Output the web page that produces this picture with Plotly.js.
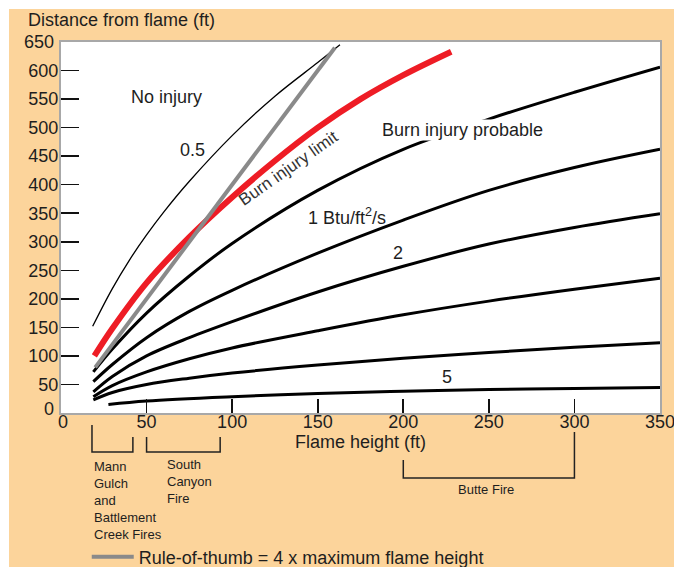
<!DOCTYPE html>
<html><head><meta charset="utf-8">
<script src="https://cdn.plot.ly/plotly-3.0.1.min.js"></script>
<style>
html,body{margin:0;padding:0;background:#fff;width:674px;height:567px;overflow:hidden}
#chart{position:absolute;left:9px;top:9px;width:665px;height:558px}
</style>
</head><body><div id="chart"></div>
<script>
// Flame height (ft) vs distance from flame (ft)
const flameH05 = [18.5, 30, 40, 50, 60, 75, 100, 125, 150, 163];
const dist05   = [152, 218, 268, 312, 352, 406, 486, 555, 614, 645];

const flameHLimit = [19.5, 30, 50, 75, 100, 125, 150, 175, 200, 228];
const distLimit   = [100, 148, 228, 308, 378, 442, 500, 550, 592, 633];

const flameHRule = [20, 160];
const distRule   = [80, 640];

const flameHA = [18.9, 30, 50, 75, 100, 150, 200, 250, 300, 350];
const distA   = [72, 112, 175, 240, 297, 390, 462, 515, 562, 606];

const flameH1 = [18.9, 30, 50, 75, 100, 150, 200, 250, 300, 350];
const dist1   = [55, 85, 132, 178, 215, 280, 338, 390, 430, 462];

const flameH2 = [18.9, 30, 50, 75, 100, 150, 200, 250, 300, 350];
const dist2   = [37, 64, 100, 132, 160, 212, 257, 296, 325, 349];

const flameH3 = [18.9, 30, 50, 75, 100, 150, 200, 250, 300, 350];
const dist3   = [28.5, 48, 72, 95, 114, 144, 172, 196, 217, 236];

const flameH4 = [18.9, 30, 50, 75, 100, 150, 200, 250, 300, 350];
const dist4   = [23, 36, 50, 61, 70, 84, 96, 106, 115, 123];

const flameH5 = [27.7, 50, 100, 150, 200, 250, 300, 350];
const dist5   = [15, 21, 28.5, 34, 38, 41, 43, 44.5];

const xTickVals = [50, 100, 150, 200, 250, 300];
const yTickVals = [50, 100, 150, 200, 250, 300, 350, 400, 450, 500, 550, 600];

const fireNames  = ['Mann<br>Gulch<br>and<br>Battlement<br>Creek Fires', 'South<br>Canyon<br>Fire', 'Butte Fire'];
const fireRanges = [[18.1, 42], [50, 93], [200, 300]];

const FONT = 'Liberation Sans, Arial, Helvetica, sans-serif';
const TXT = '#1e1e1e';

function blk(x, y, w) {
  return {x: x, y: y, type: 'scatter', mode: 'lines', showlegend: false, hoverinfo: 'skip',
          line: {color: '#000', width: w, shape: 'spline', smoothing: 1}};
}

const traces = [
  blk(flameHA, distA, 3),
  blk(flameH1, dist1, 3),
  blk(flameH2, dist2, 3),
  blk(flameH3, dist3, 3),
  blk(flameH4, dist4, 3),
  blk(flameH5, dist5, 3),
  blk(flameH05, dist05, 1.3),
  {x: flameHLimit, y: distLimit, type: 'scatter', mode: 'lines', showlegend: false, hoverinfo: 'skip',
   line: {color: '#ee1c25', width: 6, shape: 'spline', smoothing: 1}},
  {x: flameHRule, y: distRule, type: 'scatter', mode: 'lines', name: 'Rule-of-thumb = 4 x maximum flame height',
   showlegend: true, hoverinfo: 'skip', line: {color: '#8a8a8a', width: 4}}
];

function pyPaper(py) { return (413 - py) / 371; }

const annotations = [
  {text: 'Distance from flame (ft)', xref: 'paper', yref: 'paper', x: -0.0584, y: pyPaper(20), xanchor: 'left', yanchor: 'middle', showarrow: false, font: {size: 18, color: TXT, family: FONT}},
  {text: '0', xref: 'x', yref: 'paper', x: 1, y: pyPaper(422), xanchor: 'center', yanchor: 'middle', showarrow: false, font: {size: 18, color: TXT, family: FONT}},
  {text: '350', xref: 'x', yref: 'paper', x: 350, y: pyPaper(422), xanchor: 'center', yanchor: 'middle', showarrow: false, font: {size: 18, color: TXT, family: FONT}},
  {text: '0', xref: 'paper', yref: 'paper', x: -0.009, y: pyPaper(409), xanchor: 'right', yanchor: 'middle', showarrow: false, font: {size: 18, color: TXT, family: FONT}},
  {text: '650', xref: 'paper', yref: 'y', x: -0.009, y: 650, xanchor: 'right', yanchor: 'middle', showarrow: false, font: {size: 18, color: TXT, family: FONT}},
  {text: 'No injury', xref: 'x', yref: 'y', x: 61.4, y: 553, showarrow: false, font: {size: 18, color: TXT, family: FONT}},
  {text: '0.5', xref: 'x', yref: 'y', x: 77, y: 460, showarrow: false, font: {size: 18, color: TXT, family: FONT}},
  {text: 'Burn injury limit', xref: 'x', yref: 'y', x: 132.7, y: 429, textangle: -35, showarrow: false, font: {size: 17, color: '#333', family: FONT}},
  {text: 'Burn injury probable', xref: 'x', yref: 'y', x: 234.4, y: 495, showarrow: false, bgcolor: '#fff', borderpad: 0, font: {size: 18, color: TXT, family: FONT}},
  {text: '1 Btu/ft<sup>2</sup>/s', xref: 'x', yref: 'y', x: 167, y: 345, showarrow: false, font: {size: 18, color: TXT, family: FONT}},
  {text: '2', xref: 'x', yref: 'y', x: 197, y: 280, showarrow: false, font: {size: 18, color: TXT, family: FONT}},
  {text: '5', xref: 'x', yref: 'y', x: 225.6, y: 63, showarrow: false, font: {size: 18, color: TXT, family: FONT}},
  {text: fireNames[0], xref: 'x', yref: 'paper', x: fireRanges[0][0], y: pyPaper(457), xanchor: 'left', yanchor: 'top', align: 'left', showarrow: false, font: {size: 13, color: TXT, family: FONT}},
  {text: fireNames[1], xref: 'x', yref: 'paper', x: 60.8, y: pyPaper(455), xanchor: 'left', yanchor: 'top', align: 'left', showarrow: false, font: {size: 13, color: TXT, family: FONT}},
  {text: fireNames[2], xref: 'x', yref: 'paper', x: (fireRanges[2][0] + fireRanges[2][1]) / 2 - 1.5, y: pyPaper(489), xanchor: 'center', yanchor: 'middle', showarrow: false, font: {size: 13, color: TXT, family: FONT}}
];

function bracket(x0, x1, yTop0, yTop1, yBot) {
  return {type: 'path', xref: 'x', yref: 'paper', layer: 'above',
          path: 'M' + x0 + ',' + pyPaper(yTop0) + ' L' + x0 + ',' + pyPaper(yBot) + ' L' + x1 + ',' + pyPaper(yBot) + ' L' + x1 + ',' + pyPaper(yTop1),
          line: {color: '#222', width: 1.5}};
}

const shapes = [
  bracket(fireRanges[0][0], fireRanges[0][1], 425, 437, 452),
  bracket(fireRanges[1][0], fireRanges[1][1], 437, 437, 452),
  bracket(fireRanges[2][0], fireRanges[2][1], 460, 432, 478)
];

const layout = {
  width: 665, height: 558,
  margin: {l: 52, r: 14, t: 33, b: 154, pad: 0, autoexpand: false},
  paper_bgcolor: '#fcd49b',
  plot_bgcolor: '#ffffff',
  font: {family: FONT, color: TXT, size: 18},
  showlegend: true,
  legend: {x: 0.043, y: pyPaper(557), xanchor: 'left', yanchor: 'middle', bgcolor: 'rgba(0,0,0,0)',
           font: {size: 18, color: TXT, family: FONT}, itemwidth: 42, borderwidth: 0},
  xaxis: {range: [0, 350], tickmode: 'array', tickvals: xTickVals, ticks: 'inside', ticklen: 14, tickwidth: 1.6,
          tickcolor: '#111', showline: true, mirror: true, linecolor: '#a8a8a8', linewidth: 2,
          showgrid: false, zeroline: false, fixedrange: true, automargin: false, ticklabelstandoff: -9,
          tickfont: {size: 18, color: TXT, family: FONT},
          title: {text: 'Flame height (ft)', font: {size: 18, color: TXT, family: FONT}, standoff: 2}},
  yaxis: {range: [0, 650], tickmode: 'array', tickvals: yTickVals, ticks: 'inside', ticklen: 18, tickwidth: 1.6,
          tickcolor: '#111', showline: true, mirror: true, linecolor: '#a8a8a8', linewidth: 2,
          showgrid: false, zeroline: false, fixedrange: true, automargin: false, ticklabelstandoff: -3,
          tickfont: {size: 18, color: TXT, family: FONT}},
  annotations: annotations,
  shapes: shapes
};

Plotly.newPlot('chart', traces, layout, {displayModeBar: false, staticPlot: true});
</script>
</body></html>
